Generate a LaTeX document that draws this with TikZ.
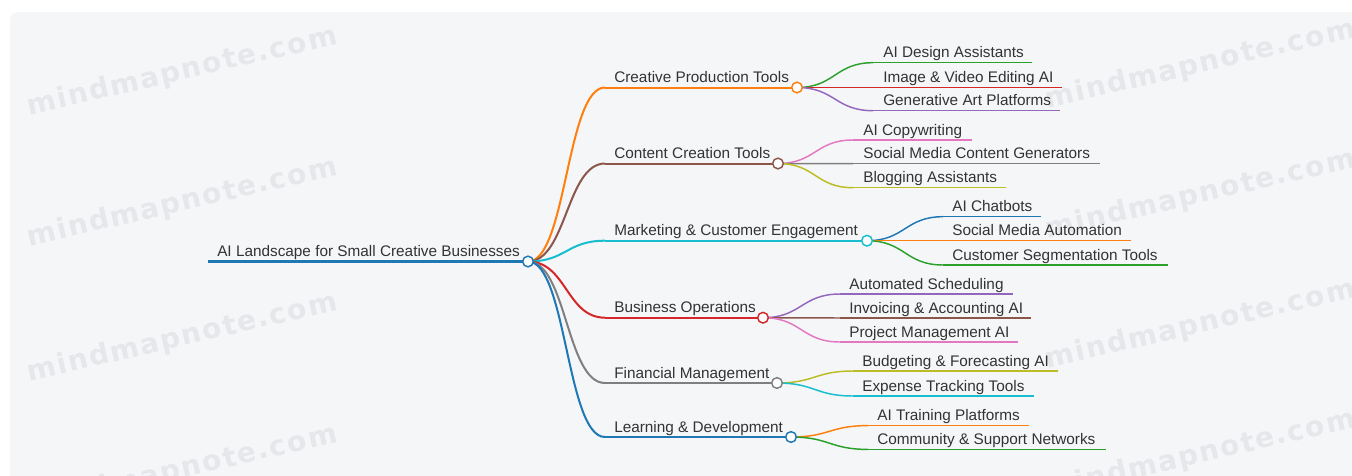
\documentclass[tikz,border=0pt]{standalone}
\usepackage{fontspec}
\setmainfont{Liberation Sans}
\newfontfamily\wmfont[LetterSpace=6]{DejaVu Sans}
\usetikzlibrary{calc}
\definecolor{bgc}{RGB}{245,246,248}
\definecolor{wmc}{RGB}{230,231,234}
\definecolor{txt}{RGB}{51,51,51}
\definecolor{cblue}{HTML}{1F77B4}
\definecolor{corange}{HTML}{FF7F0E}
\definecolor{cgreen}{HTML}{2CA02C}
\definecolor{cred}{HTML}{D62728}
\definecolor{cpurple}{HTML}{9467BD}
\definecolor{cbrown}{HTML}{8C564B}
\definecolor{cpink}{HTML}{E377C2}
\definecolor{cgray}{HTML}{7F7F7F}
\definecolor{colive}{HTML}{BCBD22}
\definecolor{ccyan}{HTML}{17BECF}
\newcommand\mmlink[3]{\draw[#3] let \p1=(#1), \p2=(#2) in (\p1) .. controls ({0.5*\x1+0.5*\x2},\y1) and ({0.5*\x1+0.5*\x2},\y2) .. (\p2);}
\tikzset{
  lbl/.style={anchor=base west, inner sep=0pt, text=txt, font=\fontsize{11.5}{14}\selectfont},
  wm/.style={rotate=13, text=wmc, font=\wmfont\bfseries\fontsize{21}{24}\selectfont, inner sep=0pt},
  rootline/.style={line width=2.3pt, cblue},
  lone/.style={line width=1.5pt, #1},
  ltwo/.style={line width=1.1pt, #1},
  dot/.style={circle, draw=#1, fill=white, line width=1.1pt, minimum size=8pt, inner sep=0pt},
}
\begin{document}
\begin{tikzpicture}[x=0.75pt,y=-0.75pt]
\useasboundingbox (0,0) rectangle (1352,475);
\fill[bgc, rounded corners=6pt] (10,12) rectangle (1362,485);
% watermarks
\foreach \i/\x/\y in {a/182/72, b/182/203, c/182/338, d/182/470, e/1200/65, f/1200/195, g/1200/325, h/1200/455}
  \node[wm] (wm\i) at (\x,\y) {mindmapnote.com};
% coordinates
\coordinate (rs) at (208,261.5);
\coordinate (rc) at (528,261.5);
\coordinate (s1) at (605,87.5);  \coordinate (c1) at (797,87.5);
\coordinate (s2) at (605,163.5); \coordinate (c2) at (778,163.5);
\coordinate (s3) at (605,240.7); \coordinate (c3) at (867,240.7);
\coordinate (s4) at (605,317.7); \coordinate (c4) at (763,317.7);
\coordinate (s5) at (605,383);   \coordinate (c5) at (777,383);
\coordinate (s6) at (605,437);   \coordinate (c6) at (791,437);
% level 2 starts / ends
\coordinate (s11) at (873,62.7);  \coordinate (e11) at (1032,62.7);
\coordinate (s12) at (873,87.5);  \coordinate (e12) at (1062,87.5);
\coordinate (s13) at (873,110.7); \coordinate (e13) at (1060,110.7);
\coordinate (s21) at (853,140);   \coordinate (e21) at (972,140);
\coordinate (s22) at (853,163.7); \coordinate (e22) at (1100,163.7);
\coordinate (s23) at (853,187.7); \coordinate (e23) at (1006,187.7);
\coordinate (s31) at (943,216.7); \coordinate (e31) at (1041,216.7);
\coordinate (s32) at (943,240.7); \coordinate (e32) at (1131,240.7);
\coordinate (s33) at (943,265);   \coordinate (e33) at (1168,265);
\coordinate (s41) at (840,294);   \coordinate (e41) at (1013,294);
\coordinate (s42) at (840,318);   \coordinate (e42) at (1031,318);
\coordinate (s43) at (840,342);   \coordinate (e43) at (1018,342);
\coordinate (s51) at (853,371);   \coordinate (e51) at (1058,371);
\coordinate (s52) at (853,396);   \coordinate (e52) at (1034,396);
\coordinate (s61) at (868,425.6); \coordinate (e61) at (1029,425.6);
\coordinate (s62) at (868,449.4); \coordinate (e62) at (1106,449.4);
% root line
\draw[rootline] (rs) -- (rc);
% level 1 links and lines
\foreach \k/\c in {1/corange,2/cbrown,3/ccyan,4/cred,5/cgray,6/cblue}{
  \mmlink{rc}{s\k}{lone=\c}
  \draw[lone=\c] (s\k) -- (c\k);
}
% level 2 links and lines
\foreach \q/\k/\c in {1/11/cgreen,1/12/cred,1/13/cpurple,
                      2/21/cpink,2/22/cgray,2/23/colive,
                      3/31/cblue,3/32/corange,3/33/cgreen,
                      4/41/cpurple,4/42/cbrown,4/43/cpink,
                      5/51/colive,5/52/ccyan,
                      6/61/corange,6/62/cgreen}{
  \mmlink{c\q}{s\k}{ltwo=\c}
  \draw[ltwo=\c] (s\k) -- (e\k);
}
% dots
\node[dot=cblue] (rdot) at (rc) {};
\node[dot=corange] (d1) at (c1) {};
\node[dot=cbrown] (d2) at (c2) {};
\node[dot=ccyan] (d3) at (c3) {};
\node[dot=cred] (d4) at (c4) {};
\node[dot=cgray] (d5) at (c5) {};
\node[dot=cblue] (d6) at (c6) {};
% labels
\node[lbl] (troot) at (217,256.5) {AI Landscape for Small Creative Businesses};
\node[lbl] (t1) at (614,82.5) {Creative Production Tools};
\node[lbl] (t2) at (614,158.5) {Content Creation Tools};
\node[lbl] (t3) at (614,235.7) {Marketing \& Customer Engagement};
\node[lbl] (t4) at (614,312.7) {Business Operations};
\node[lbl] (t5) at (614,378) {Financial Management};
\node[lbl] (t6) at (614,432) {Learning \& Development};
\node[lbl] (t11) at (883,57.7) {AI Design Assistants};
\node[lbl] (t12) at (883,82.5) {Image \& Video Editing AI};
\node[lbl] (t13) at (883,105.7) {Generative Art Platforms};
\node[lbl] (t21) at (863,135) {AI Copywriting};
\node[lbl] (t22) at (863,158.7) {Social Media Content Generators};
\node[lbl] (t23) at (863,182.7) {Blogging Assistants};
\node[lbl] (t31) at (952,211.7) {AI Chatbots};
\node[lbl] (t32) at (952,235.7) {Social Media Automation};
\node[lbl] (t33) at (952,260) {Customer Segmentation Tools};
\node[lbl] (t41) at (849,289) {Automated Scheduling};
\node[lbl] (t42) at (849,313) {Invoicing \& Accounting AI};
\node[lbl] (t43) at (849,337) {Project Management AI};
\node[lbl] (t51) at (862,366) {Budgeting \& Forecasting AI};
\node[lbl] (t52) at (862,391) {Expense Tracking Tools};
\node[lbl] (t61) at (877,420.6) {AI Training Platforms};
\node[lbl] (t62) at (877,444.4) {Community \& Support Networks};
\end{tikzpicture}
\end{document}
